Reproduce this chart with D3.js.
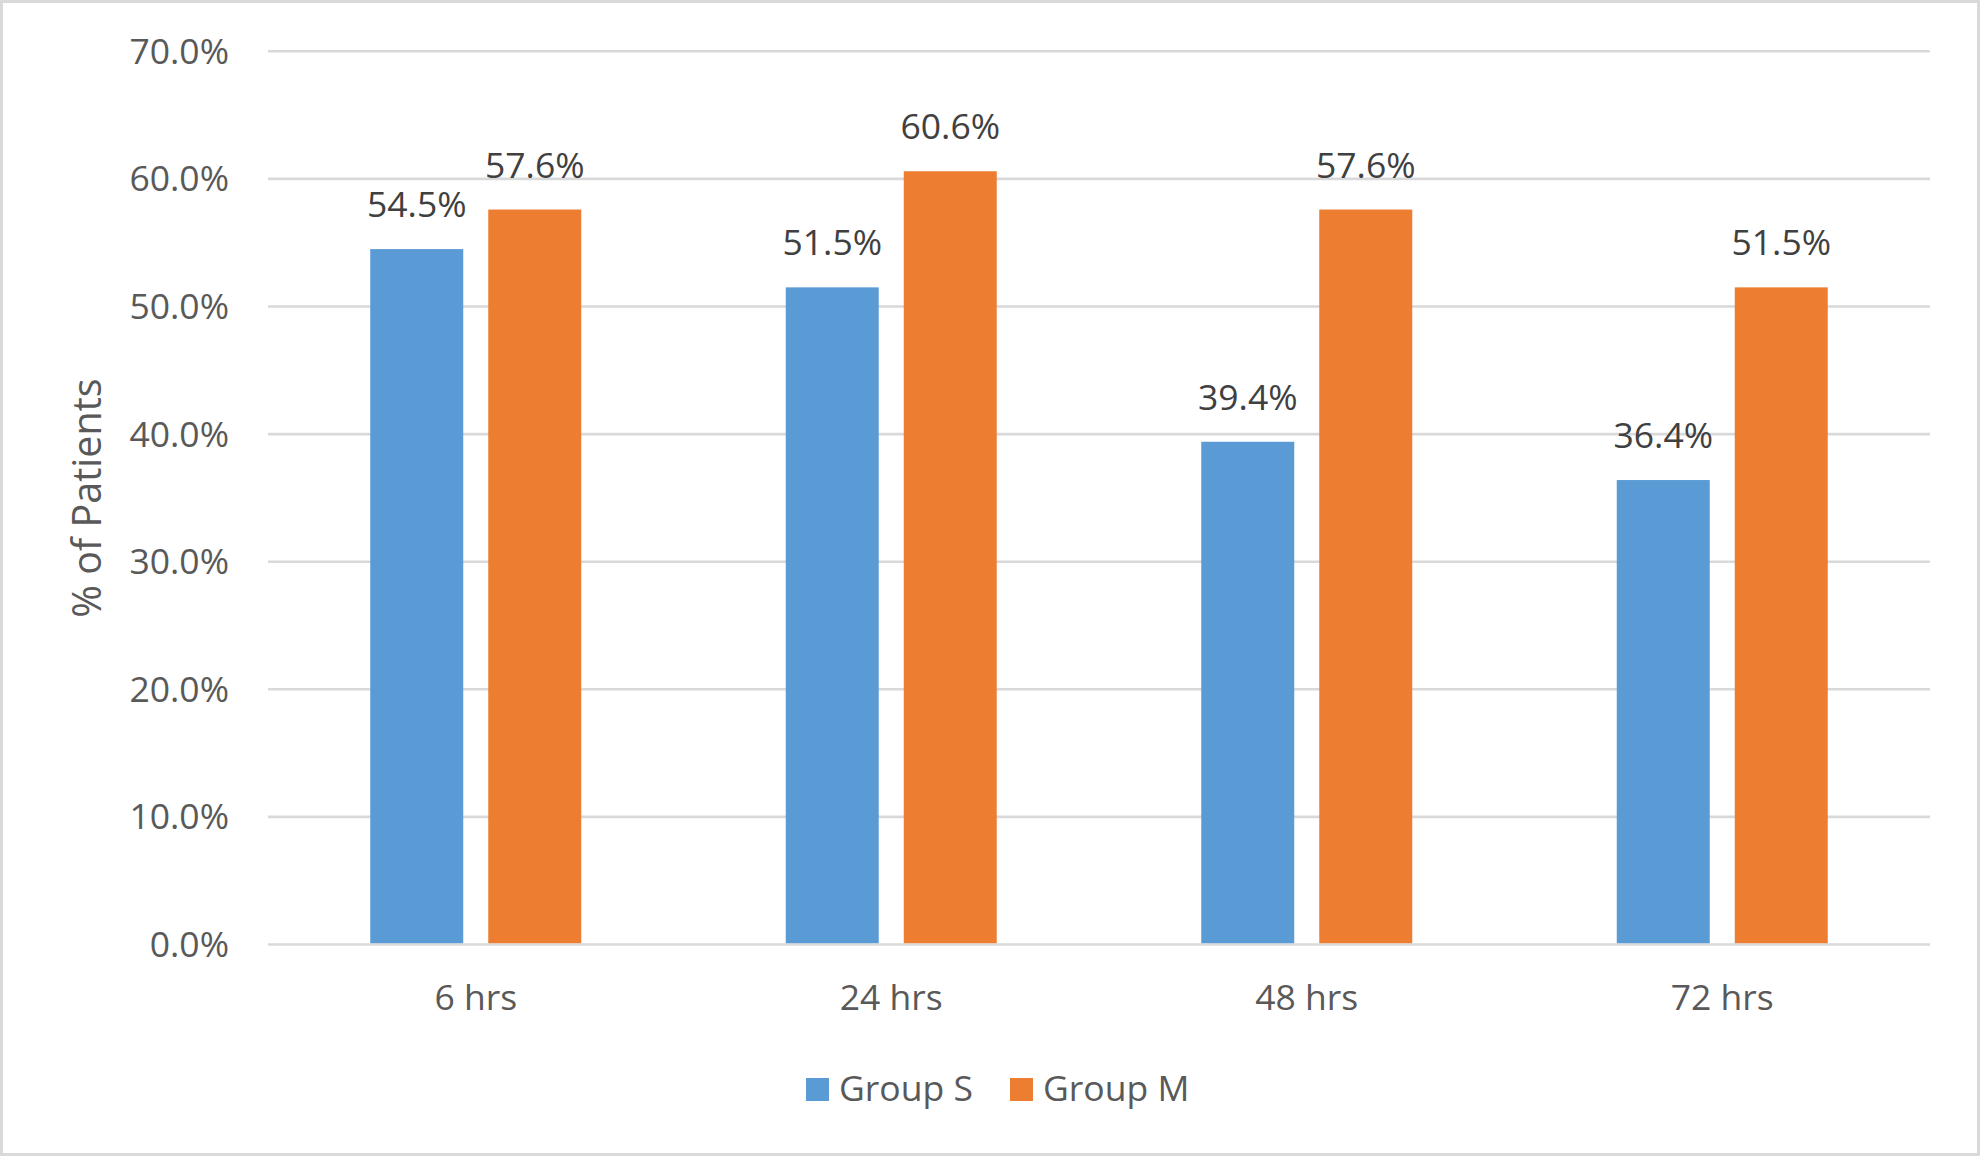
<!DOCTYPE html>
<html lang="en">
<head>
    <meta charset="UTF-8">
    <title>% of Patients</title>
    <style>
        body { margin: 0; background: #fff; }
        text { font-family: "Open Sans", sans-serif; }
    </style>
</head>
<body></body>
<script src="https://cdn.jsdelivr.net/npm/d3@7"></script>
<script>
    // data
    const categories = ["6 hrs", "24 hrs", "48 hrs", "72 hrs"];
    const seriesNames = ["Group S", "Group M"];
    const groupS = [54.5, 51.5, 39.4, 36.4];
    const groupM = [57.6, 60.6, 57.6, 51.5];
    const yTicks = [0, 10, 20, 30, 40, 50, 60, 70];
    const colors = ["#5B9BD5", "#ED7D31"];

    const width = 1982;
    const height = 1157;

    const svg = d3.select("body")
        .append("svg")
        .attr("width", width)
        .attr("height", height);

    // outer frame
    svg.append("rect")
        .attr("x", 1.5).attr("y", 1.5)
        .attr("width", width - 5).attr("height", height - 4)
        .attr("fill", "#fff")
        .attr("stroke", "#d9d9d9")
        .attr("stroke-width", 3);

    const plotLeft = 268, plotRight = 1930, plotTop = 51.3, plotBottom = 944.5;

    const y = d3.scaleLinear().domain([0, 70]).range([plotBottom, plotTop]);
    const x0 = d3.scaleBand().domain(categories).range([plotLeft, plotRight]);
    const x1 = d3.scaleBand().domain(seriesNames).range([-105.5, 105.5]).paddingInner(0.212);

    // gridlines
    svg.append("g")
        .selectAll("line")
        .data(yTicks)
        .enter()
        .append("line")
        .attr("x1", plotLeft).attr("x2", plotRight)
        .attr("y1", d => y(d)).attr("y2", d => y(d))
        .attr("stroke", "#d9d9d9")
        .attr("stroke-width", 2.6);

    // y tick labels
    svg.append("g")
        .selectAll("text")
        .data(yTicks)
        .enter()
        .append("text")
        .attr("x", 229)
        .attr("y", d => y(d))
        .attr("dy", "0.35em")
        .attr("text-anchor", "end")
        .attr("fill", "#595959")
        .style("font-size", "35.5px")
        .text(d => d.toFixed(1) + "%");

    // bars
    const rows = categories.map((c, i) => ({ cat: c, vals: [groupS[i], groupM[i]] }));
    const groups = svg.append("g")
        .selectAll("g")
        .data(rows)
        .enter()
        .append("g")
        .attr("transform", d => `translate(${x0(d.cat) + x0.bandwidth() / 2},0)`);

    groups.selectAll("rect")
        .data(d => d.vals.map((v, j) => ({ name: seriesNames[j], v: v, j: j })))
        .enter()
        .append("rect")
        .attr("x", d => x1(d.name))
        .attr("width", x1.bandwidth())
        .attr("y", d => y(d.v))
        .attr("height", d => y(0) - y(d.v) - 1.3)
        .attr("fill", d => colors[d.j]);

    groups.selectAll("text")
        .data(d => d.vals.map((v, j) => ({ name: seriesNames[j], v: v })))
        .enter()
        .append("text")
        .attr("x", d => x1(d.name) + x1.bandwidth() / 2)
        .attr("y", d => y(d.v) - 32)
        .attr("text-anchor", "middle")
        .attr("fill", "#404040")
        .style("font-size", "35.5px")
        .text(d => d.v.toFixed(1) + "%");

    // x labels
    svg.append("g")
        .selectAll("text")
        .data(categories)
        .enter()
        .append("text")
        .attr("x", d => x0(d) + x0.bandwidth() / 2)
        .attr("y", 1010)
        .attr("text-anchor", "middle")
        .attr("fill", "#595959")
        .style("font-size", "35.5px")
        .text(d => d);

    // y axis title
    svg.append("text")
        .attr("transform", "translate(101,498) rotate(-90)")
        .attr("text-anchor", "middle")
        .attr("fill", "#595959")
        .style("font-size", "39.5px")
        .text("% of Patients");

    // legend
    const legendX = [806, 1010];
    const legend = svg.append("g")
        .selectAll("g")
        .data(seriesNames)
        .enter()
        .append("g")
        .attr("transform", (d, i) => `translate(${legendX[i]},1078)`);

    legend.append("rect")
        .attr("width", 23).attr("height", 23)
        .attr("fill", (d, i) => colors[i]);

    legend.append("text")
        .attr("x", 33)
        .attr("y", 23)
        .attr("fill", "#595959")
        .style("font-size", "35.5px")
        .text(d => d);
</script>
</html>
